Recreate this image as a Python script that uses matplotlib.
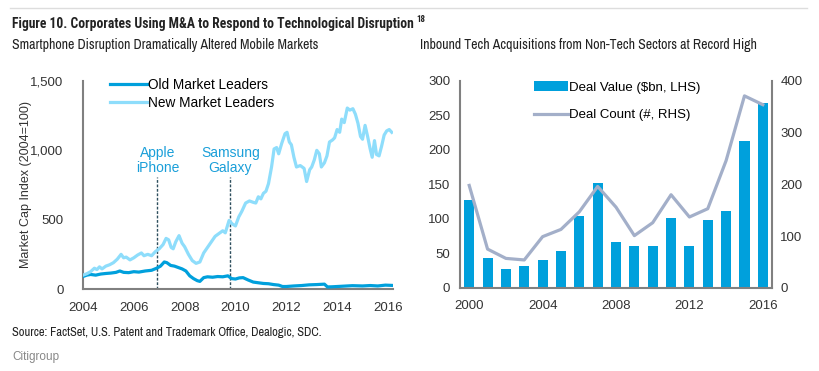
import numpy as np
import matplotlib.pyplot as plt

plt.rcParams['font.family'] = ['Liberation Sans', 'DejaVu Sans']
narrow = ['Archivo Narrow', 'Liberation Sans', 'DejaVu Sans']
narrow_bold = ['Roboto Condensed', 'Barlow Semi Condensed', 'Archivo Narrow', 'Liberation Sans']

# left panel: market cap index (2004=100)
new_t = [2004.0, 2004.15, 2004.3, 2004.45, 2004.55, 2004.65, 2004.75, 2004.9, 2005.05, 2005.2,
         2005.35, 2005.5, 2005.6, 2005.7, 2005.85, 2006.0, 2006.15, 2006.3, 2006.4, 2006.55,
         2006.7, 2006.85, 2007.0, 2007.15, 2007.27, 2007.37, 2007.47, 2007.55, 2007.65, 2007.78,
         2007.9, 2008.0, 2008.15, 2008.3, 2008.45, 2008.6, 2008.75, 2008.9, 2009.05, 2009.2,
         2009.35, 2009.5, 2009.6, 2009.75, 2009.87, 2010.0, 2010.13, 2010.25, 2010.4, 2010.55,
         2010.7, 2010.8, 2010.9, 2011.0, 2011.1, 2011.2, 2011.3, 2011.42, 2011.52, 2011.62,
         2011.7, 2011.82, 2011.95, 2012.03, 2012.12, 2012.2, 2012.3, 2012.4, 2012.55, 2012.7,
         2012.8, 2012.92, 2013.0, 2013.1, 2013.2, 2013.3, 2013.38, 2013.5, 2013.6, 2013.7,
         2013.82, 2013.9, 2014.0, 2014.1, 2014.18, 2014.28, 2014.4, 2014.5, 2014.62, 2014.72,
         2014.82, 2014.92, 2015.0, 2015.1, 2015.2, 2015.3, 2015.38, 2015.47, 2015.55, 2015.65,
         2015.75, 2015.85, 2015.95, 2016.05, 2016.15]
new_v = [100, 110, 125, 150, 140, 160, 145, 165, 175, 190,
         215, 250, 225, 230, 210, 225, 245, 260, 240, 250,
         240, 270, 290, 320, 365, 355, 300, 290, 340, 385,
         330, 305, 250, 205, 185, 195, 260, 300, 340, 380,
         400, 420, 405, 495, 470, 455, 520, 560, 620, 635,
         625, 620, 665, 650, 690, 705, 760, 880, 1010, 1020,
         975, 1050, 1120, 1130, 1060, 1040, 950, 880, 890, 870,
         775, 860, 880, 930, 1000, 975, 880, 910, 960, 1060,
         1075, 1090, 1150, 1130, 1225, 1200, 1305, 1290, 1300, 1260,
         1195, 1100, 1080, 1180, 1100, 1010, 950, 1070, 970, 960,
         1030, 1110, 1140, 1150, 1130]

old_t = [2004.0, 2004.15, 2004.3, 2004.5, 2004.7, 2004.9, 2005.1, 2005.3, 2005.45, 2005.6,
         2005.8, 2006.0, 2006.2, 2006.45, 2006.7, 2006.9, 2007.05, 2007.2, 2007.3, 2007.45,
         2007.6, 2007.75, 2007.9, 2008.05, 2008.2, 2008.35, 2008.5, 2008.6, 2008.75, 2008.9,
         2009.1, 2009.3, 2009.5, 2009.7, 2009.85, 2010.0, 2010.15, 2010.3, 2010.5, 2010.7,
         2010.9, 2011.1, 2011.3, 2011.5, 2011.7, 2011.85, 2012.0, 2012.3, 2012.6, 2012.9,
         2013.2, 2013.5, 2013.62, 2013.8, 2014.2, 2014.6, 2015.0, 2015.3, 2015.6, 2015.9,
         2016.15]
old_v = [90, 100, 105, 100, 108, 112, 115, 120, 130, 120,
         118, 125, 122, 130, 135, 150, 165, 195, 190, 170,
         165, 155, 145, 130, 95, 75, 60, 55, 82, 88,
         85, 90, 88, 95, 75, 72, 80, 82, 65, 50,
         45, 40, 38, 32, 28, 18, 18, 22, 25, 30,
         32, 35, 15, 16, 20, 24, 22, 25, 22, 28,
         26]

events = [2006.93, 2009.8]
event_labels = ['Apple\niPhone', 'Samsung\nGalaxy']

# right panel: inbound tech acquisitions
years = list(range(2000, 2017))
deal_value = [128, 43, 27, 32, 41, 54, 104, 152, 66, 60, 60, 101, 60, 98, 111, 213, 268]
deal_count = [198, 75, 57, 54, 99, 113, 147, 196, 156, 101, 126, 180, 137, 153, 246, 371, 354]

dark = '#00A0DC'
light = '#8EDDFB'
grey_line = '#A3AFC9'
spine_c = '#808080'
txt = '#333333'

fig = plt.figure(figsize=(8.19, 3.71), dpi=100)

fig.add_artist(plt.Line2D([0.012, 0.985], [0.978, 0.978], color='#dddddd', lw=1))
fig.text(0.015, 0.935, 'Figure 10. Corporates Using M&A to Respond to Technological Disruption',
         fontsize=9.8, fontweight='bold', family=narrow_bold, color='#222222', va='center')
fig.text(0.5085, 0.948, '18', fontsize=6.5, fontweight='bold', family=narrow_bold, color='#222222', va='center')
fig.text(0.015, 0.88, 'Smartphone Disruption Dramatically Altered Mobile Markets',
         fontsize=10, family=narrow, color='#222222', va='center')
fig.text(0.513, 0.88, 'Inbound Tech Acquisitions from Non-Tech Sectors at Record High',
         fontsize=10, family=narrow, color='#222222', va='center')
fig.text(0.015, 0.103, 'Source: FactSet, U.S. Patent and Trademark Office, Dealogic, SDC.',
         fontsize=9, family=narrow, color='#222222', va='center')
fig.text(0.015, 0.037, 'Citigroup', fontsize=8.5, color='#888888', va='center')

# left chart
ax = fig.add_axes([0.1013, 0.221, 0.3786, 0.5607])
ax.plot(old_t, old_v, color=dark, lw=2.3, label='Old Market Leaders', zorder=3)
ax.plot(new_t, new_v, color=light, lw=2.3, label='New Market Leaders', zorder=3)
for x, lab in zip(events, event_labels):
    ax.plot([x, x], [0, 810], color='#2E4F5E', lw=1, ls=(0, (2, 1.2)), zorder=2)
    ax.text(x, 925, lab, ha='center', va='center', color='#1A9FD9', fontsize=10, linespacing=1.05)
ax.set_xlim(2004, 2016.2)
ax.set_ylim(0, 1500)
ax.set_xticks([2004, 2006, 2008, 2010, 2012, 2014, 2016])
ax.set_yticks([0, 500, 1000, 1500])
ax.set_yticklabels(['0', '500', '1,000', '1,500'])
ax.set_ylabel('Market Cap Index (2004=100)', fontsize=9, color=txt, labelpad=-1)
ax.legend(loc='upper left', bbox_to_anchor=(0.07, 1.04), frameon=False, fontsize=9.8,
          handlelength=2.7, handletextpad=0.1, labelspacing=0.27, borderaxespad=0)

# right chart
ax2 = fig.add_axes([0.5617, 0.224, 0.3809, 0.5580])
ax3 = ax2.twinx()
ax2.bar(years, deal_value, width=0.55, color=dark, label='Deal Value ($bn, LHS)')
ax3.plot(years, deal_count, color=grey_line, lw=2.3, label='Deal Count (#, RHS)')
ax2.set_xlim(1999.5, 2016.5)
ax2.set_ylim(0, 300)
ax3.set_ylim(0, 400)
ax2.set_xticks([2000, 2004, 2008, 2012, 2016])
ax2.set_yticks(range(0, 301, 50))
ax3.set_yticks(range(0, 401, 100))
h1, l1 = ax2.get_legend_handles_labels()
h2, l2 = ax3.get_legend_handles_labels()
ax3.legend(h1 + h2, l1 + l2, loc='upper left', bbox_to_anchor=(0.22, 1.025), frameon=False,
           fontsize=9.5, handlelength=2.55, handleheight=0.8, handletextpad=0.1,
           labelspacing=1.15, borderaxespad=0)

for a in (ax, ax2, ax3):
    for s in a.spines.values():
        s.set_color(spine_c)
        s.set_linewidth(1.5)
    a.spines['top'].set_visible(False)
    a.tick_params(length=0, labelsize=9.5, colors=txt)
ax.tick_params(axis='y', pad=14)
ax.tick_params(axis='x', pad=9)
ax2.tick_params(axis='y', pad=7)
ax2.tick_params(axis='x', pad=9)
ax3.tick_params(axis='y', pad=6)
ax.spines['right'].set_visible(False)
ax2.spines['right'].set_visible(False)
ax3.spines['left'].set_visible(False)
ax3.spines['bottom'].set_visible(False)

fig.savefig('out.png', dpi=100)
